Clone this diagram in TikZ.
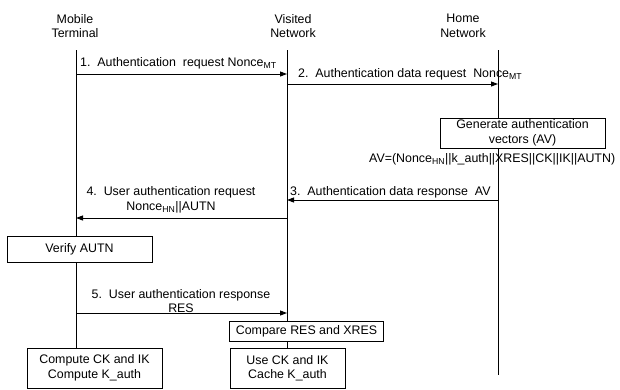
\documentclass[tikz,border=0pt]{standalone}
\usepackage{fontspec}
\setmainfont{Liberation Sans}
\usetikzlibrary{arrows.meta}
\begin{document}
\begin{tikzpicture}[x=1pt,y=-1pt,
  every node/.style={font=\fontsize{12.4}{14.5}\selectfont, inner sep=0pt},
  head/.style={align=center},
  lbl/.style={align=center},
  procbox/.style={draw, line width=0.9pt, align=center},
  life/.style={line width=0.9pt},
  msg/.style={line width=0.9pt, -{Triangle[length=7pt,width=5pt]}}]
\useasboundingbox (0,0) rectangle (620,389);

% participants
\node[head] (mt) at (75,26) {Mobile\\Terminal};
\node[head] (vn) at (293,26) {Visited\\Network};
\node[head] (hn) at (463,26) {Home\\Network};

\coordinate (mtTop) at (76,50);
\coordinate (vnTop) at (287,50);
\coordinate (hnTop) at (498,50);
\coordinate (hnEnd) at (498,375);

% processing boxes
\node[procbox, minimum width=165pt, minimum height=30pt] (gen) at (522.5,133) {Generate authentication\\vectors (AV)};
\node[procbox, minimum width=145pt, minimum height=26pt] (verify) at (79.5,249.5) {Verify AUTN};
\node[procbox, minimum width=154pt, minimum height=20pt] (compare) at (306.5,331) {Compare RES and XRES};
\node[procbox, minimum width=115pt, minimum height=40pt] (usebox) at (287.5,368) {Use CK and IK\\Cache K\_auth};
\node[procbox, minimum width=135pt, minimum height=40pt] (compute) at (94.5,368) {Compute CK and IK\\Compute K\_auth};

% lifelines
\draw[life] (mtTop) -- (mtTop |- verify.north);
\draw[life] (mtTop |- verify.south) -- (mtTop |- compute.north);
\draw[life] (vnTop) -- (vnTop |- compare.north);
\draw[life] (vnTop |- compare.south) -- (vnTop |- usebox.north);
\draw[life] (hnTop) -- (hnTop |- gen.north);
\draw[life] (hnTop |- gen.south) -- (hnEnd);

% message end points
\coordinate (m1) at (76,74);   \coordinate (v1) at (287,74);
\coordinate (v2) at (287,84);  \coordinate (h2) at (498,84);
\coordinate (h3) at (498,200); \coordinate (v3) at (287,200);
\coordinate (v4) at (287,218); \coordinate (m4) at (76,218);
\coordinate (m5) at (76,313);  \coordinate (v5) at (287,313);

% messages
\draw[msg] (m1) -- (v1);
\draw[msg] (v2) -- (h2);
\draw[msg] (h3) -- (v3);
\draw[msg] (v4) -- (m4);
\draw[msg] (m5) -- (v5);

% message labels
\node[anchor=west] (l1) at (80,63) {1.\ \ Authentication\ \ request Nonce\textsubscript{MT}};
\node[anchor=west] (l2) at (298,74) {2.\ \ Authentication data request\ \ Nonce\textsubscript{MT}};
\node[anchor=west] (av) at (369,159) {AV=(Nonce\textsubscript{HN}||k\_auth||XRES||CK||IK||AUTN)};
\node[anchor=west] (l3) at (290,192) {3.\ \ Authentication data response\ \ AV};
\node[lbl] (l4) at (171,200) {4.\ \ User authentication request\\Nonce\textsubscript{HN}||AUTN};
\node[lbl] (l5) at (181,301) {5.\ \ User authentication response\\RES};
\end{tikzpicture}
\end{document}
